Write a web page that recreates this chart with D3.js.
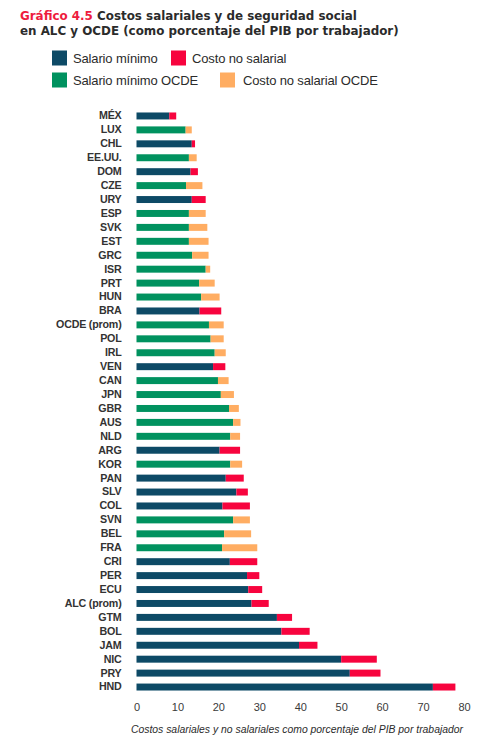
<!DOCTYPE html>
<html>
<head>
<meta charset="utf-8">
<script src="https://cdn.jsdelivr.net/npm/d3@7"></script>
<style>
  html, body { margin: 0; padding: 0; background: #fff; }
  #viz { width: 500px; height: 748px; }
</style>
</head>
<body>
<div id="viz"></div>
<script>
// -----------------------------
// DATA
// -----------------------------
const countries = ["MÉX", "LUX", "CHL", "EE.UU.", "DOM", "CZE", "URY", "ESP", "SVK", "EST",
  "GRC", "ISR", "PRT", "HUN", "BRA", "OCDE (prom)", "POL", "IRL", "VEN", "CAN",
  "JPN", "GBR", "AUS", "NLD", "ARG", "KOR", "PAN", "SLV", "COL", "SVN",
  "BEL", "FRA", "CRI", "PER", "ECU", "ALC (prom)", "GTM", "BOL", "JAM", "NIC",
  "PRY", "HND"];

// "ALC" = Latin America & Caribbean, "OCDE" = OECD
const groups = ["ALC", "OCDE", "ALC", "OCDE", "ALC", "OCDE", "ALC", "OCDE", "OCDE", "OCDE",
  "OCDE", "OCDE", "OCDE", "OCDE", "ALC", "OCDE", "OCDE", "OCDE", "ALC", "OCDE",
  "OCDE", "OCDE", "OCDE", "OCDE", "ALC", "OCDE", "ALC", "ALC", "ALC", "OCDE",
  "OCDE", "OCDE", "ALC", "ALC", "ALC", "ALC", "ALC", "ALC", "ALC", "ALC",
  "ALC", "ALC"];

const minWage = [8.0, 12.0, 13.5, 12.8, 13.2, 12.1, 13.5, 12.8, 12.8, 12.8,
  13.6, 16.9, 15.3, 15.8, 15.4, 17.7, 18.1, 19.1, 18.7, 19.9,
  20.6, 22.6, 23.6, 22.9, 20.3, 22.9, 21.8, 24.4, 21.0, 23.6,
  21.4, 20.9, 22.8, 27.0, 27.3, 28.1, 34.3, 35.4, 39.7, 50.0,
  52.1, 72.4];

const nonWage = [1.7, 1.5, 0.8, 1.9, 1.8, 4.0, 3.4, 4.1, 4.5, 4.8,
  4.0, 1.1, 3.8, 4.5, 5.3, 3.6, 3.2, 2.7, 3.0, 2.6,
  3.2, 2.4, 1.8, 2.4, 5.0, 2.9, 4.4, 2.8, 6.7, 4.1,
  6.6, 8.6, 6.7, 3.0, 3.4, 4.2, 3.7, 6.9, 4.5, 8.7,
  7.5, 5.5];

const xTicks = [0, 10, 20, 30, 40, 50, 60, 70, 80];

const legendLabels = ["Salario mínimo", "Costo no salarial", "Salario mínimo OCDE", "Costo no salarial OCDE"];

// -----------------------------
// COLOURS
// -----------------------------
const COLORS = {
  ALC:  { wage: "#0d4a66", extra: "#f7043e" },
  OCDE: { wage: "#00925f", extra: "#ffad62" }
};
const RED = "#ee1c3e";
const TEXT = "#2b2b2b";

const svg = d3.select("#viz")
  .append("svg")
  .attr("width", 500)
  .attr("height", 748)
  .style("display", "block");

// -----------------------------
// TITLE
// -----------------------------
const title = svg.append("text")
  .attr("x", 20)
  .attr("y", 19.5)
  .attr("font-family", "DejaVu Sans")
  .attr("font-weight", "bold")
  .attr("font-size", 11.9)
  .attr("fill", TEXT);
title.append("tspan").attr("fill", RED).text("Gráfico 4.5");
title.append("tspan").text(" Costos salariales y de seguridad social");

svg.append("text")
  .attr("x", 20)
  .attr("y", 34.5)
  .attr("font-family", "DejaVu Sans")
  .attr("font-weight", "bold")
  .attr("font-size", 11.9)
  .attr("fill", TEXT)
  .text("en ALC y OCDE (como porcentaje del PIB por trabajador)");

// -----------------------------
// LEGEND
// -----------------------------
const legendItems = [
  { label: legendLabels[0], color: COLORS.ALC.wage,   x: 52,  y: 58 },
  { label: legendLabels[1], color: COLORS.ALC.extra,  x: 171, y: 58 },
  { label: legendLabels[2], color: COLORS.OCDE.wage,  x: 52,  y: 80 },
  { label: legendLabels[3], color: COLORS.OCDE.extra, x: 220, y: 80 }
];

const legend = svg.append("g")
  .selectAll("g")
  .data(legendItems)
  .join("g")
  .attr("transform", d => `translate(${d.x},${d.y})`);

legend.append("rect")
  .attr("x", 0)
  .attr("y", -7.5)
  .attr("width", 15)
  .attr("height", 15)
  .attr("fill", d => d.color);

legend.append("text")
  .attr("x", d => d.x === 220 ? 23 : 21)
  .attr("y", 4.6)
  .attr("font-family", "Liberation Sans")
  .attr("font-size", 13)
  .attr("letter-spacing", -0.15)
  .attr("fill", TEXT)
  .text(d => d.label);

// -----------------------------
// SCALES
// -----------------------------
const x = d3.scaleLinear()
  .domain([0, 80])
  .range([136.5, 464]);

const y = d3.scaleBand()
  .domain(countries)
  .range([109, 694])
  .paddingInner(0.5)
  .paddingOuter(0.25);

const rows = countries.map((c, i) => ({
  name: c,
  group: groups[i],
  wage: minWage[i],
  extra: nonWage[i]
}));

// -----------------------------
// BARS
// -----------------------------
const bars = svg.append("g");

bars.selectAll("rect.wage")
  .data(rows)
  .join("rect")
  .attr("class", "wage")
  .attr("x", x(0))
  .attr("y", d => y(d.name))
  .attr("width", d => x(d.wage) - x(0))
  .attr("height", y.bandwidth())
  .attr("fill", d => COLORS[d.group].wage);

bars.selectAll("rect.extra")
  .data(rows)
  .join("rect")
  .attr("class", "extra")
  .attr("x", d => x(d.wage))
  .attr("y", d => y(d.name))
  .attr("width", d => x(d.wage + d.extra) - x(d.wage))
  .attr("height", y.bandwidth())
  .attr("fill", d => COLORS[d.group].extra);

// -----------------------------
// AXES
// -----------------------------
const yAxis = svg.append("g")
  .attr("transform", `translate(${x(0) - 15},0)`)
  .call(d3.axisLeft(y).tickSize(0).tickPadding(0));
yAxis.select(".domain").remove();
yAxis.selectAll("text")
  .attr("font-family", "Liberation Sans")
  .attr("font-weight", "bold")
  .attr("font-size", 10.7)
  .attr("letter-spacing", -0.2)
  .attr("fill", "#333");

const xAxis = svg.append("g")
  .attr("transform", "translate(0,703)")
  .call(d3.axisBottom(x).tickValues(xTicks).tickSize(0).tickPadding(0));
xAxis.select(".domain").remove();
xAxis.selectAll("text")
  .attr("dy", "0.75em")
  .attr("font-family", "Liberation Sans")
  .attr("font-size", 11)
  .attr("fill", "#3a3a3a");

svg.append("text")
  .attr("x", 297)
  .attr("y", 733)
  .attr("text-anchor", "middle")
  .attr("font-family", "Liberation Sans")
  .attr("font-style", "italic")
  .attr("font-size", 10.4)
  .attr("fill", TEXT)
  .text("Costos salariales y no salariales como porcentaje del PIB por trabajador");
</script>
</body>
</html>
